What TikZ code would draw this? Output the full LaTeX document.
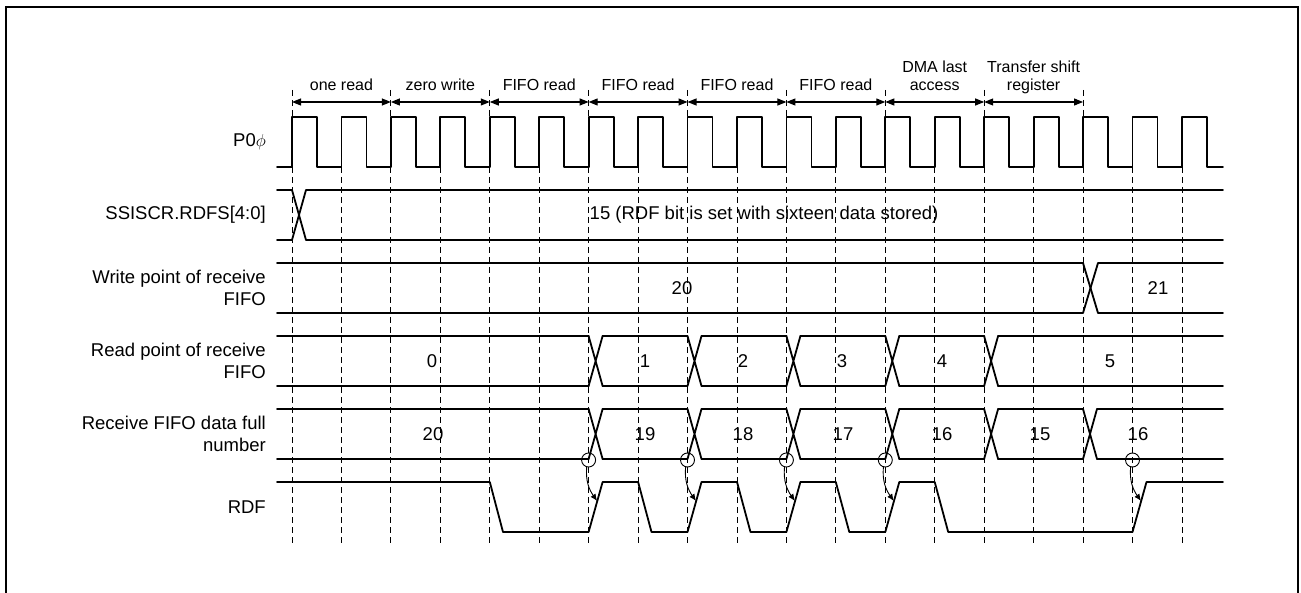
\documentclass[tikz,border=0pt]{standalone}
\usepackage{fontspec}
\setmainfont{Liberation Sans}
\usetikzlibrary{arrows.meta,calc}

\begin{document}
\begin{tikzpicture}[
    x=1pt, y=-1pt,
    sig/.style={line width=1.8pt, line cap=round, line join=round},
    grid/.style={dash pattern=on 6pt off 4pt, line width=0.8pt},
    dim/.style={{Triangle[length=9pt,width=7pt]}-{Triangle[length=9pt,width=7pt]}, line width=1.1pt},
    lbl/.style={anchor=east, align=right, font=\fontsize{18.5}{21.5}\selectfont, inner sep=0pt},
    val/.style={font=\fontsize{18.5}{21.5}\selectfont, inner sep=0pt},
    phase/.style={anchor=base, align=center, font=\fontsize{16}{18.5}\selectfont, inner sep=0pt},
    ring/.style={circle, draw, line width=0.9pt, minimum size=14pt, inner sep=0pt},
    hop/.style={-{Latex[length=7pt,width=6pt]}, line width=0.9pt}
  ]
    \useasboundingbox (0,0) rectangle (1301,593);
    % outer frame
    \draw[line width=2.5pt] (6,600) -- (6,7) -- (1298,7) -- (1298,600);

    % dashed grid at every rising edge
    \foreach \k in {0,...,18}
      \draw[grid] ({292+49.44*\k},117) -- ++(0,426);
    \foreach \k in {0,2,...,16}
      \draw[grid] ({292+49.44*\k},90) -- ++(0,27);

    % access phases
    \foreach \k in {0,...,8}
      \coordinate (b\k) at ({292+98.88*\k},102);
    \foreach \a/\b in {0/1,1/2,2/3,3/4,4/5,5/6,6/7,7/8}
      \draw[dim] (b\a) -- (b\b);
    \node[phase] (p1) at ($(b0)!0.5!(b1)+(0,-11)$) {one read};
    \node[phase] (p2) at ($(b1)!0.5!(b2)+(0,-11)$) {zero write};
    \node[phase] (p3) at ($(b2)!0.5!(b3)+(0,-11)$) {FIFO read};
    \node[phase] (p4) at ($(b3)!0.5!(b4)+(0,-11)$) {FIFO read};
    \node[phase] (p5) at ($(b4)!0.5!(b5)+(0,-11)$) {FIFO read};
    \node[phase] (p6) at ($(b5)!0.5!(b6)+(0,-11)$) {FIFO read};
    \node[phase] (p7) at ($(b6)!0.5!(b7)+(0,-11)$) {DMA last\\access};
    \node[phase] (p8) at ($(b7)!0.5!(b8)+(0,-11)$) {Transfer shift\\register};

    % signal names
    \node[lbl] (nclk) at (266,142) {P0$\phi$};
    \node[lbl] (nrdfs) at (266,215) {SSISCR.RDFS[4:0]};
    \node[lbl] (nwp) at (266,288) {Write point of receive\\FIFO};
    \node[lbl] (nrp) at (266,361) {Read point of receive\\FIFO};
    \node[lbl] (nfull) at (266,434) {Receive FIFO data full\\number};
    \node[lbl] (nrdf) at (266,507) {RDF};

    % clock
    \draw[sig] (277,167)
      \foreach \k in {0,...,18} { -- ({292+49.44*\k},167) -- ({292+49.44*\k},117)
        -- ({317+49.44*\k},117) -- ({317+49.44*\k},167) } -- (1223,167);

    % SSISCR.RDFS
    \draw[sig] (277,190) -- (292,190) -- (306,240) -- (1223,240);
    \draw[sig] (277,240) -- (292,240) -- (306,190) -- (1223,190);
    \node[val] (vrdfs) at (764,215) {15 (RDF bit is set with sixteen data stored)};

    % write point
    \draw[sig] (277,263) -- (1083,263) -- (1098,313) -- (1223,313);
    \draw[sig] (277,313) -- (1083,313) -- (1098,263) -- (1223,263);
    \node[val] (vw1) at (682,288) {20};
    \node[val] (vw2) at (1158,288) {21};

    % read point
    \foreach \a/\b in {277/588.6,602.6/687.5,701.5/786.4,800.4/885.3,899.3/984.1,998.1/1223}
      \draw[sig] (\a,336) -- (\b,336) (\a,386) -- (\b,386);
    \foreach \e in {588.6,687.5,786.4,885.3,984.1}
      \draw[sig] (\e,336) -- ++(14,50) (\e,386) -- ++(14,-50);
    \node[val] (vr0) at (432,361) {0};
    \node[val] (vr1) at (645,361) {1};
    \node[val] (vr2) at (743,361) {2};
    \node[val] (vr3) at (842,361) {3};
    \node[val] (vr4) at (942,361) {4};
    \node[val] (vr5) at (1110,361) {5};

    % data full number
    \foreach \a/\b in {277/588.6,602.6/687.5,701.5/786.4,800.4/885.3,899.3/984.1,998.1/1083,1097/1223}
      \draw[sig] (\a,409) -- (\b,409) (\a,459) -- (\b,459);
    \foreach \e in {588.6,687.5,786.4,885.3,984.1,1083}
      \draw[sig] (\e,409) -- ++(14,50) (\e,459) -- ++(14,-50);
    \node[val] (vf0) at (433,434) {20};
    \node[val] (vf1) at (645,434) {19};
    \node[val] (vf2) at (743,434) {18};
    \node[val] (vf3) at (843,434) {17};
    \node[val] (vf4) at (942,434) {16};
    \node[val] (vf5) at (1040,434) {15};
    \node[val] (vf6) at (1138,434) {16};

    % RDF
    \draw[sig] (277,482) -- (489.8,482) -- (503,532) -- (588.6,532) -- (602.6,482)
      -- (638.1,482) -- (651.5,532) -- (687.5,532) -- (701.5,482) -- (737,482)
      -- (750.5,532) -- (786.4,532) -- (800.4,482) -- (835.8,482) -- (849.3,532)
      -- (885.3,532) -- (899.3,482) -- (934.7,482) -- (948.2,532) -- (1132.5,532)
      -- (1146.5,482) -- (1223,482);

    % RDF set after data full number changes
    \foreach \i/\e in {1/588.6,2/687.5,3/786.4,4/885.3,5/1132.5} {
      \node[ring] (c\i) at (\e,460) {};
      \coordinate (t\i) at ({\e+8.5},501);
      \draw[hop] (c\i.-105) to[out=-95,in=125] (t\i);
    }
\end{tikzpicture}
\end{document}
